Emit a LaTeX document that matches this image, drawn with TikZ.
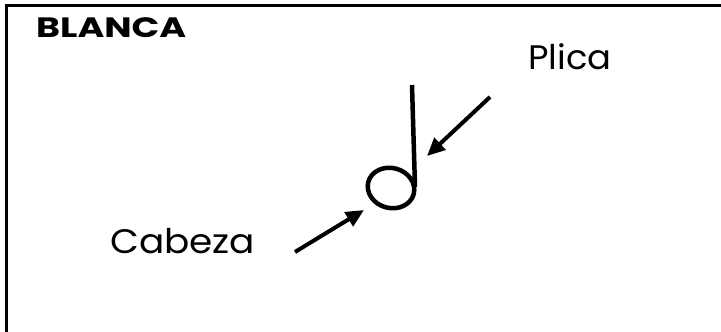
\documentclass[tikz,border=0pt]{standalone}
\usepackage{fontspec}
\setmainfont{Poppins}
\usetikzlibrary{arrows.meta,shapes.geometric}
\tikzset{
  frameline/.style={line width=3pt},
  pointer/.style={line width=4pt,-{Triangle[length=18pt,width=16pt]}},
  notepart/.style={line width=4.5pt},
  lbl/.style={inner sep=0pt,font=\fontsize{34}{34}\selectfont},
  titlelbl/.style={inner sep=0pt,font=\fontsize{28}{28}\selectfont\bfseries}
}
\begin{document}
\begin{tikzpicture}[x=1pt,y=-1pt]
\useasboundingbox (0,0) rectangle (721,332);
% frame
\coordinate (fbl) at (6.5,332);
\coordinate (ftl) at (6.5,5.5);
\coordinate (ftr) at (721,5.5);
\draw[frameline] (fbl) -- (ftl) -- (ftr);
% title
\node[titlelbl,anchor=west] (title) at (36,27.5) {\scalebox{1.3}[1]{BLANCA}};
% note
\node[notepart,draw,ellipse,minimum width=47pt,minimum height=40pt,inner sep=0pt,rotate=-15] (head) at (391,188) {};
\coordinate (stemtop) at (412,85);
\coordinate (stembot) at (415,187);
\draw[notepart] (stemtop) -- (stembot);
% labels
\node[lbl,anchor=west] (plica) at (528,57) {\scalebox{1.04}[1]{Plica}};
\node[lbl,anchor=west] (cabeza) at (110,241) {\scalebox{1.1}[1]{Cabeza}};
% arrows
\coordinate (ptail) at (490,97);
\coordinate (ptip) at (427,156);
\draw[pointer] (ptail) -- (ptip);
\coordinate (ctail) at (295,252);
\coordinate (ctip) at (364,210);
\draw[pointer] (ctail) -- (ctip);
\end{tikzpicture}
\end{document}
